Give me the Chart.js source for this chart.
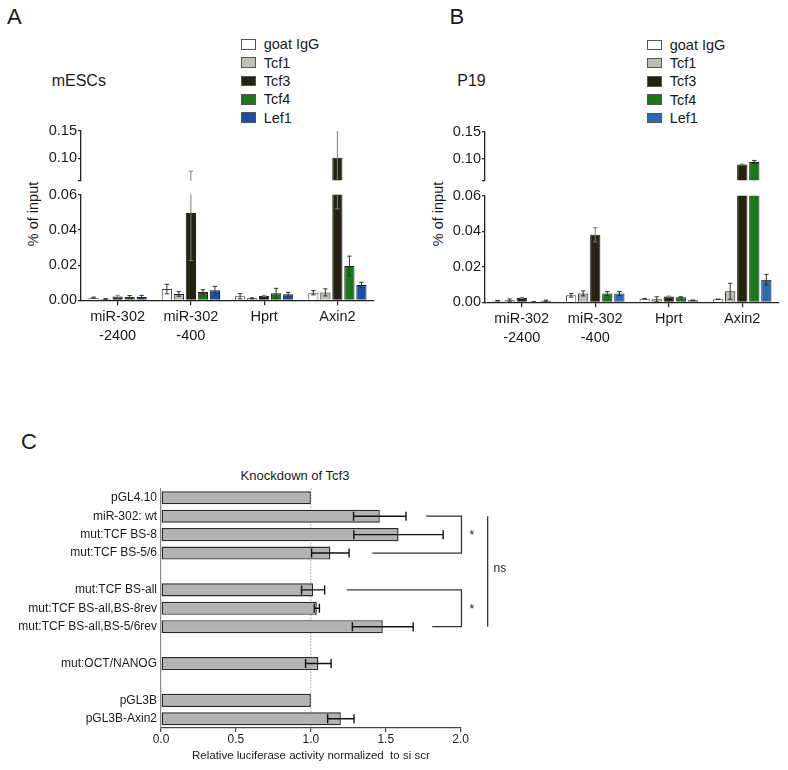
<!DOCTYPE html>
<html>
<head>
<meta charset="utf-8">
<script src="https://cdn.jsdelivr.net/npm/chart.js@4.4.1/dist/chart.umd.min.js"></script>
<style>
  html, body { margin: 0; padding: 0; background: #fff; }
  body { width: 788px; height: 770px; position: relative; overflow: hidden;
         font-family: 'Liberation Sans', Arial, sans-serif; color: #1a1a1a; }
  canvas, .txt, .legend { position: absolute; }
  .txt { line-height: 1; white-space: nowrap; }
  .panel { font-size: 22px; }
  .cell { font-size: 16px; }
  .ylab { font-size: 14.5px; transform: translate(-50%, -50%) rotate(-90deg); }
  .legend { font-size: 14.5px; }
  .legend .row { display: flex; align-items: center; height: 18.3px; }
  .legend .box { width: 13px; height: 8.5px; border: 1px solid #555; margin-right: 8px; }
</style>
</head>
<body>

<div class="txt panel" style="left:7px; top:6.4px;">A</div>
<div class="txt panel" style="left:449.5px; top:6.4px;">B</div>
<div class="txt panel" style="left:21px; top:431.4px;">C</div>

<div class="txt cell" style="left:51.7px; top:72.5px;">mESCs</div>
<div class="txt cell" style="left:457.3px; top:72.5px;">P19</div>

<div class="txt ylab" style="left:32.5px; top:213.5px;">% of input</div>
<div class="txt ylab" style="left:437.5px; top:213.5px;">% of input</div>

<div class="legend" id="legendA" style="left:240.7px; top:35.3px;"></div>
<div class="legend" id="legendB" style="left:646.7px; top:35.7px;"></div>

<div class="txt" style="left:195px; width:200px; text-align:center; top:468.8px; font-size:13px;">Knockdown of Tcf3</div>

<canvas id="upperA" width="394" height="70" style="left:0; top:120px;"></canvas>
<canvas id="lowerA" width="394" height="175" style="left:0; top:185px;"></canvas>
<canvas id="upperB" width="394" height="70" style="left:394px; top:120px;"></canvas>
<canvas id="lowerB" width="394" height="175" style="left:394px; top:185px;"></canvas>
<canvas id="chartC" width="788" height="330" style="left:0; top:440px;"></canvas>

<script>
// ── ChIP data (% of input), panels A and B ──────────────
const regions = [['miR-302', '-2400'], ['miR-302', '-400'], 'Hprt', 'Axin2'];
const antibodies = ['goat IgG', 'Tcf1', 'Tcf3', 'Tcf4', 'Lef1'];

// mESCs means, one array per antibody (order follows regions)
const mescGoat = [0.0015, 0.0064, 0.0023, 0.0043];
const mescTcf1 = [0.0008, 0.0036, 0.0011, 0.0045];
const mescTcf3 = [0.0021, 0.0496, 0.0025, 0.101];
const mescTcf4 = [0.0019, 0.0047, 0.0040, 0.0195];
const mescLef1 = [0.0019, 0.0057, 0.0034, 0.0087];
// mESCs error bars
const mescGoatErr = [0.0003, 0.0027, 0.0015, 0.0012];
const mescTcf1Err = [0.0002, 0.0013, 0.0003, 0.0020];
const mescTcf3Err = [0.0007, 0.027, 0.0003, 0.049];
const mescTcf4Err = [0.0008, 0.0013, 0.0028, 0.0056];
const mescLef1Err = [0.0009, 0.0022, 0.0011, 0.0015];

// P19 means
const p19Goat = [0.0009, 0.0039, 0.0020, 0.0017];
const p19Tcf1 = [0.0011, 0.0050, 0.0017, 0.0062];
const p19Tcf3 = [0.0024, 0.038, 0.0032, 0.0896];
const p19Tcf4 = [0.0002, 0.0050, 0.0028, 0.094];
const p19Lef1 = [0.0009, 0.0050, 0.0011, 0.0127];
// P19 error bars
const p19GoatErr = [0.0002, 0.0010, 0.0002, 0.0001];
const p19Tcf1Err = [0.0008, 0.0014, 0.0014, 0.0045];
const p19Tcf3Err = [0.0003, 0.004, 0.0003, 0.0005];
const p19Tcf4Err = [0.0001, 0.0010, 0.0003, 0.003];
const p19Lef1Err = [0.0003, 0.0011, 0.0002, 0.003];

// broken axis: two segments
const upperTicks = [0.06, 0.10, 0.15];
const lowerTicks = [0, 0.02, 0.04, 0.06];

// ── Luciferase data, panel C ────────────────────────────
const constructs = ['pGL4.10', 'miR-302: wt', 'mut:TCF BS-8', 'mut:TCF BS-5/6', '',
  'mut:TCF BS-all', 'mut:TCF BS-all,BS-8rev', 'mut:TCF BS-all,BS-5/6rev', '',
  'mut:OCT/NANOG', '', 'pGL3B', 'pGL3B-Axin2'];
const luciferase = [1.0, 1.46, 1.585, 1.13, null, 1.015, 1.04, 1.48, null, 1.05, null, 1.0, 1.2];
const luciferaseErr = [0, 0.175, 0.298, 0.125, null, 0.077, 0.017, 0.203, null, 0.085, null, 0, 0.088];
const luciferaseTicks = [0, 0.5, 1.0, 1.5, 2.0];

// significance brackets (value units / row indexes)
const brackets = [
  { rows: [1, 3], armStart: [1.77, 1.41], label: '*' },
  { rows: [5, 7], armStart: [1.24, 1.81], label: '*' }
];

const FONT = "'Liberation Sans', Arial, sans-serif";
Chart.defaults.font.family = FONT;
Chart.defaults.color = '#1a1a1a';

const colorsA = ['#ffffff', '#c0c0b8', '#25230f', '#18791a', '#1a4fa6'];
const colorsB = ['#ffffff', '#bcbcb2', '#25230f', '#18791a', '#2c6bb0'];
const errColors = ['#333', '#333', '#7d7d7d', '#333', '#333'];

// ── Error bar plugin (vertical or horizontal bars) ─────
const errorBars = {
  id: 'errorBars',
  afterDatasetsDraw(chart, args, opts) {
    const { ctx, chartArea: a } = chart;
    const horizontal = chart.options.indexAxis === 'y';
    const vScale = horizontal ? chart.scales.x : chart.scales.y;
    const cap = opts.cap || 2.5;
    ctx.save();
    ctx.beginPath();
    ctx.rect(a.left - 6, a.top - 0.5, a.right - a.left + 400, a.bottom - a.top + 1);
    ctx.clip();
    ctx.lineWidth = opts.width || 1;
    chart.data.datasets.forEach((ds, i) => {
      if (!ds.errors) return;
      const meta = chart.getDatasetMeta(i);
      ctx.strokeStyle = ds.errorColor || '#222';
      meta.data.forEach((bar, j) => {
        const v = ds.data[j];
        const e = ds.errors[j];
        if (v == null || !e) return;
        const lo = vScale.getPixelForValue(v - e);
        const hi = vScale.getPixelForValue(v + e);
        ctx.beginPath();
        if (horizontal) {
          const c = bar.y;
          ctx.moveTo(lo, c); ctx.lineTo(hi, c);
          ctx.moveTo(lo, c - cap); ctx.lineTo(lo, c + cap);
          ctx.moveTo(hi, c - cap); ctx.lineTo(hi, c + cap);
        } else {
          const c = bar.x;
          ctx.moveTo(c, lo); ctx.lineTo(c, hi);
          if (hi >= a.top && hi <= a.bottom) { ctx.moveTo(c - cap, hi); ctx.lineTo(c + cap, hi); }
          if (lo >= a.top && lo <= a.bottom) { ctx.moveTo(c - cap, lo); ctx.lineTo(c + cap, lo); }
        }
        ctx.stroke();
      });
    });
    ctx.restore();
  }
};

// ── HTML legend for A / B ───────────────────────────────
function buildLegend(el, colors) {
  antibodies.forEach((name, i) => {
    const row = document.createElement('div');
    row.className = 'row';
    row.innerHTML = `<span class="box" style="background:${colors[i]}"></span><span>${name}</span>`;
    el.appendChild(row);
  });
}

// ── One segment of a broken-axis grouped bar chart ──────
function segmentChart(id, cfg) {
  const datasets = antibodies.map((name, i) => ({
    label: name,
    data: cfg.means[i],
    errors: cfg.errors[i],
    errorColor: errColors[i],
    backgroundColor: cfg.colors[i],
    borderColor: i === 0 ? '#444' : '#1e1e1e',
    borderWidth: 1,
    categoryPercentage: 0.82,
    barPercentage: 0.85,
    clip: 0
  }));

  return new Chart(document.getElementById(id), {
    type: 'bar',
    data: { labels: regions, datasets },
    options: {
      responsive: false,
      animation: false,
      layout: { padding: cfg.padding },
      plugins: { legend: { display: false }, tooltip: { enabled: false }, errorBars: { cap: 2.2, width: 1 } },
      scales: {
        x: {
          display: cfg.showX,
          afterFit: s => { if (cfg.xHeight) s.height = cfg.xHeight; },
          grid: { offset: false, drawOnChartArea: false, drawTicks: true, tickLength: 5, color: '#222', lineWidth: 1.2 },
          border: { color: '#222', width: 1.3 },
          ticks: { font: { size: 14.5, lineHeight: 1.3 }, padding: 2, maxRotation: 0, autoSkip: false, color: '#1a1a1a' }
        },
        y: {
          min: cfg.min,
          max: cfg.max,
          afterFit: s => { s.width = cfg.yWidth; },
          afterBuildTicks: s => { s.ticks = cfg.ticks.map(v => ({ value: v })); },
          grid: { drawOnChartArea: false, drawTicks: true, tickLength: 3, color: '#222', lineWidth: 1.2 },
          border: { color: '#222', width: 1.3 },
          ticks: {
            font: { size: 14.5 },
            padding: 1,
            color: '#1a1a1a',
            callback: v => (cfg.hideMin && v === cfg.min) ? '' : v.toFixed(2)
          }
        }
      }
    },
    plugins: [errorBars]
  });
}

function brokenPanel(suffix, means, errors, colors, geo) {
  segmentChart('upper' + suffix, {
    means, errors, colors,
    min: 0.06, max: 0.15, ticks: upperTicks, hideMin: true,
    showX: false, yWidth: geo.yWidth,
    padding: { top: geo.upperTop, bottom: geo.upperBottom, left: 0, right: geo.right }
  });
  segmentChart('lower' + suffix, {
    means, errors, colors,
    min: 0, max: 0.06, ticks: lowerTicks, hideMin: false,
    showX: true, yWidth: geo.yWidth, xHeight: geo.xHeight,
    padding: { top: geo.lowerTop, bottom: 0, left: 0, right: geo.right }
  });
}

// ── Panel C: horizontal bars with brackets ──────────────
const refLine = {
  id: 'refLine',
  beforeDatasetsDraw(chart) {
    const { ctx, chartArea: a, scales: { x } } = chart;
    const px = x.getPixelForValue(1.0);
    ctx.save();
    ctx.strokeStyle = '#6f6f6f';
    ctx.lineWidth = 1;
    ctx.setLineDash([1, 2]);
    ctx.beginPath();
    ctx.moveTo(px, a.top); ctx.lineTo(px, a.bottom);
    ctx.stroke();
    ctx.restore();
  }
};

const sigMarks = {
  id: 'sigMarks',
  afterDraw(chart) {
    const { ctx, scales: { x, y } } = chart;
    const vx = x.getPixelForValue(2.005);
    ctx.save();
    ctx.strokeStyle = '#333';
    ctx.lineWidth = 1.3;
    ctx.fillStyle = '#1a1a1a';
    ctx.font = `12px ${FONT}`;
    ctx.textAlign = 'center';
    ctx.textBaseline = 'middle';
    brackets.forEach(b => {
      const y0 = y.getPixelForValue(b.rows[0]);
      const y1 = y.getPixelForValue(b.rows[1]);
      ctx.beginPath();
      ctx.moveTo(x.getPixelForValue(b.armStart[0]), y0);
      ctx.lineTo(vx, y0);
      ctx.lineTo(vx, y1);
      ctx.lineTo(x.getPixelForValue(b.armStart[1]), y1);
      ctx.stroke();
      ctx.fillText(b.label, x.getPixelForValue(2.075), y.getPixelForValue((b.rows[0] + b.rows[1]) / 2) + 1);
    });
    // ns line spanning both comparisons
    const nx = x.getPixelForValue(2.18);
    ctx.beginPath();
    ctx.moveTo(nx, y.getPixelForValue(1));
    ctx.lineTo(nx, y.getPixelForValue(7));
    ctx.stroke();
    ctx.fillText('ns', x.getPixelForValue(2.262), y.getPixelForValue(3.85));
    ctx.restore();
  }
};

function luciferaseChart() {
  return new Chart(document.getElementById('chartC'), {
    type: 'bar',
    data: {
      labels: constructs,
      datasets: [{
        data: luciferase,
        errors: luciferaseErr,
        errorColor: '#111',
        backgroundColor: '#b3b3b3',
        borderColor: '#2a2a2a',
        borderWidth: 1.4,
        borderSkipped: false,
        categoryPercentage: 1,
        barPercentage: 0.71
      }]
    },
    options: {
      indexAxis: 'y',
      responsive: false,
      animation: false,
      layout: { padding: { top: 48.6, right: 327.3, left: 0, bottom: 0 } },
      plugins: { legend: { display: false }, tooltip: { enabled: false }, errorBars: { cap: 4.5, width: 1.4 } },
      scales: {
        x: {
          min: 0,
          max: 2,
          afterFit: s => { s.height = 42; },
          afterBuildTicks: s => { s.ticks = luciferaseTicks.map(v => ({ value: v })); },
          grid: { drawOnChartArea: false, drawTicks: true, tickLength: 4, color: '#444', lineWidth: 1.2 },
          border: { color: '#444', width: 1.2 },
          ticks: { font: { size: 12 }, padding: 0, color: '#1a1a1a', callback: v => v.toFixed(1) },
          title: {
            display: true,
            text: 'Relative luciferase activity normalized  to si scr',
            font: { size: 11.5 },
            color: '#1a1a1a',
            padding: { top: 0, bottom: 7 }
          }
        },
        y: {
          afterFit: s => { s.width = 161; },
          grid: { display: false, drawTicks: false },
          border: { display: true, color: '#8a8a8a', width: 1.2 },
          ticks: { font: { size: 12 }, padding: 4, color: '#1a1a1a', autoSkip: false }
        }
      }
    },
    plugins: [refLine, errorBars, sigMarks]
  });
}

// ── Build everything ────────────────────────────────────
buildLegend(document.getElementById('legendA'), colorsA);
buildLegend(document.getElementById('legendB'), colorsB);

brokenPanel('A',
  [mescGoat, mescTcf1, mescTcf3, mescTcf4, mescLef1],
  [mescGoatErr, mescTcf1Err, mescTcf3Err, mescTcf4Err, mescLef1Err],
  colorsA,
  { yWidth: 81, right: 20, upperTop: 11, upperBottom: 7, lowerTop: 9.7, xHeight: 59.7 });

brokenPanel('B',
  [p19Goat, p19Tcf1, p19Tcf3, p19Tcf4, p19Lef1],
  [p19GoatErr, p19Tcf1Err, p19Tcf3Err, p19Tcf4Err, p19Lef1Err],
  colorsB,
  { yWidth: 91, right: 9, upperTop: 12, upperBottom: 6.3, lowerTop: 10.7, xHeight: 57.7 });

luciferaseChart();
</script>
</body>
</html>
